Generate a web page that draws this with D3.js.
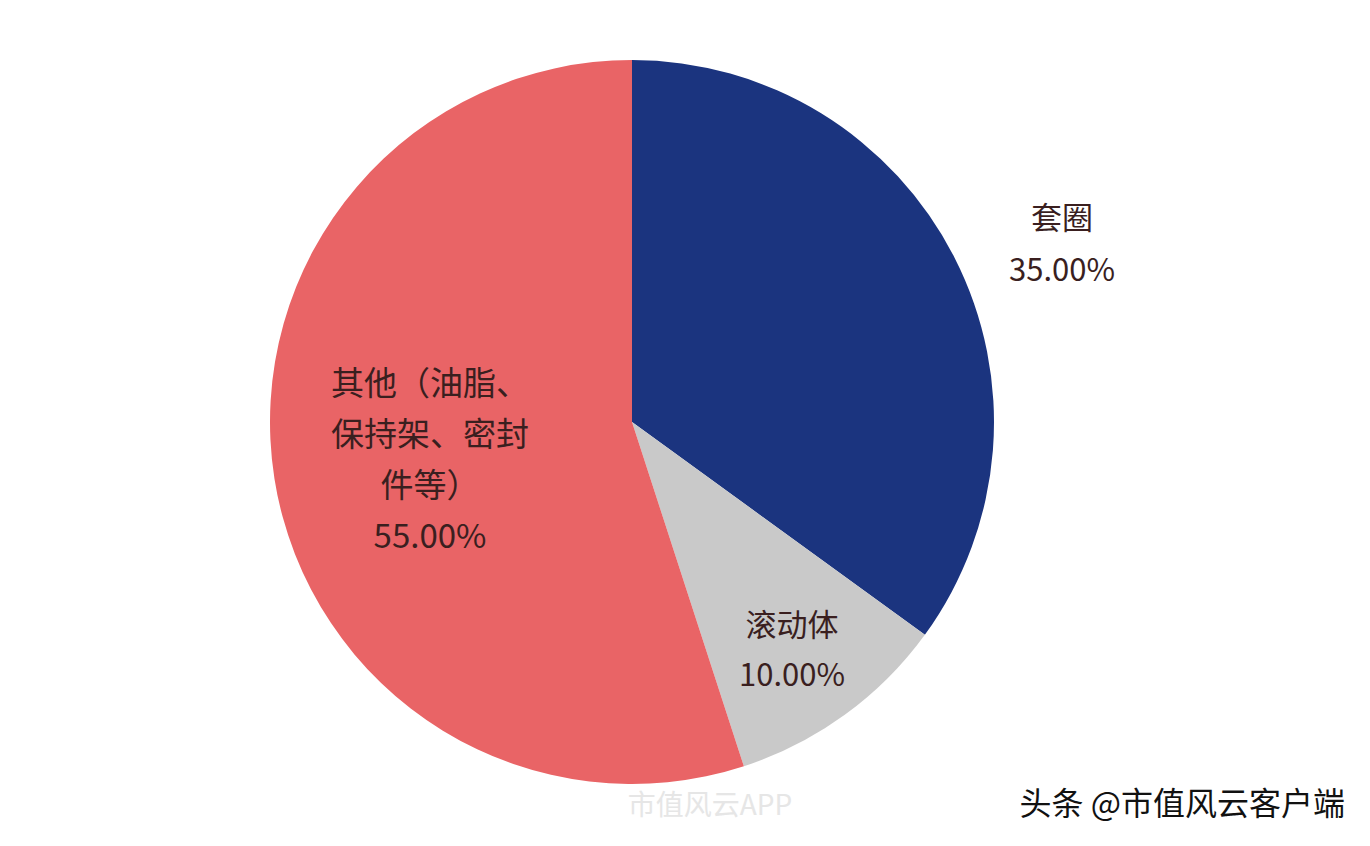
<!DOCTYPE html>
<html><head><meta charset="utf-8">
<script src="https://cdn.jsdelivr.net/npm/d3@7"></script>
<style>body{margin:0;background:#fff}</style>
</head><body>
<svg id="chart" width="1370" height="846"></svg>
<script>
// slice data
var categories = ["套圈", "滚动体", "其他（油脂、保持架、密封件等）"];
var values = [35, 10, 55];
var colors = ["#1b347f", "#c9c9c9", "#e96466"];
// label lines per slice
var labelLines = [["套圈", "35.00%"], ["滚动体", "10.00%"], ["其他（油脂、", "保持架、密封", "件等）", "55.00%"]];

var svg = d3.select("#chart");
var cx = 632, cy = 422, r = 362;
var g = svg.append("g").attr("transform", "translate(" + cx + "," + cy + ")");

var pie = d3.pie().sort(null).value(function(d) { return d; });
var arc = d3.arc().innerRadius(0).outerRadius(r);
var arcs = pie(values);

g.selectAll("path").data(arcs).enter().append("path")
    .attr("d", arc)
    .attr("fill", function(d, i) { return colors[i]; });

// label positions relative to center
var labelPos = [[430, -178], [160, 228], [-202, 38]];
var lineH = [52, 50, 51];
arcs.forEach(function(d, i) {
    var t = g.append("text")
        .attr("text-anchor", "middle")
        .attr("font-family", "Noto Sans CJK SC, sans-serif")
        .attr("font-size", i == 2 ? 33 : 31)
        .attr("fill", "#3a1f1f");
    var lines = labelLines[i];
    var y0 = labelPos[i][1] - (lines.length - 1) * lineH[i] / 2;
    lines.forEach(function(s, j) {
        t.append("tspan")
            .attr("x", labelPos[i][0])
            .attr("y", y0 + j * lineH[i])
            .attr("dy", "0.35em")
            .text(s);
    });
});

svg.append("text").attr("x", 710).attr("y", 815).attr("text-anchor", "middle")
    .attr("font-family", "Noto Sans CJK SC, sans-serif").attr("font-size", 28)
    .attr("fill", "#e6e6e6").text("市值风云APP");
svg.append("text").attr("x", 1345).attr("y", 815).attr("text-anchor", "end")
    .attr("font-family", "Noto Sans CJK SC, sans-serif").attr("font-size", 32)
    .attr("fill", "#111").text("头条 @市值风云客户端");
</script>
</body></html>
